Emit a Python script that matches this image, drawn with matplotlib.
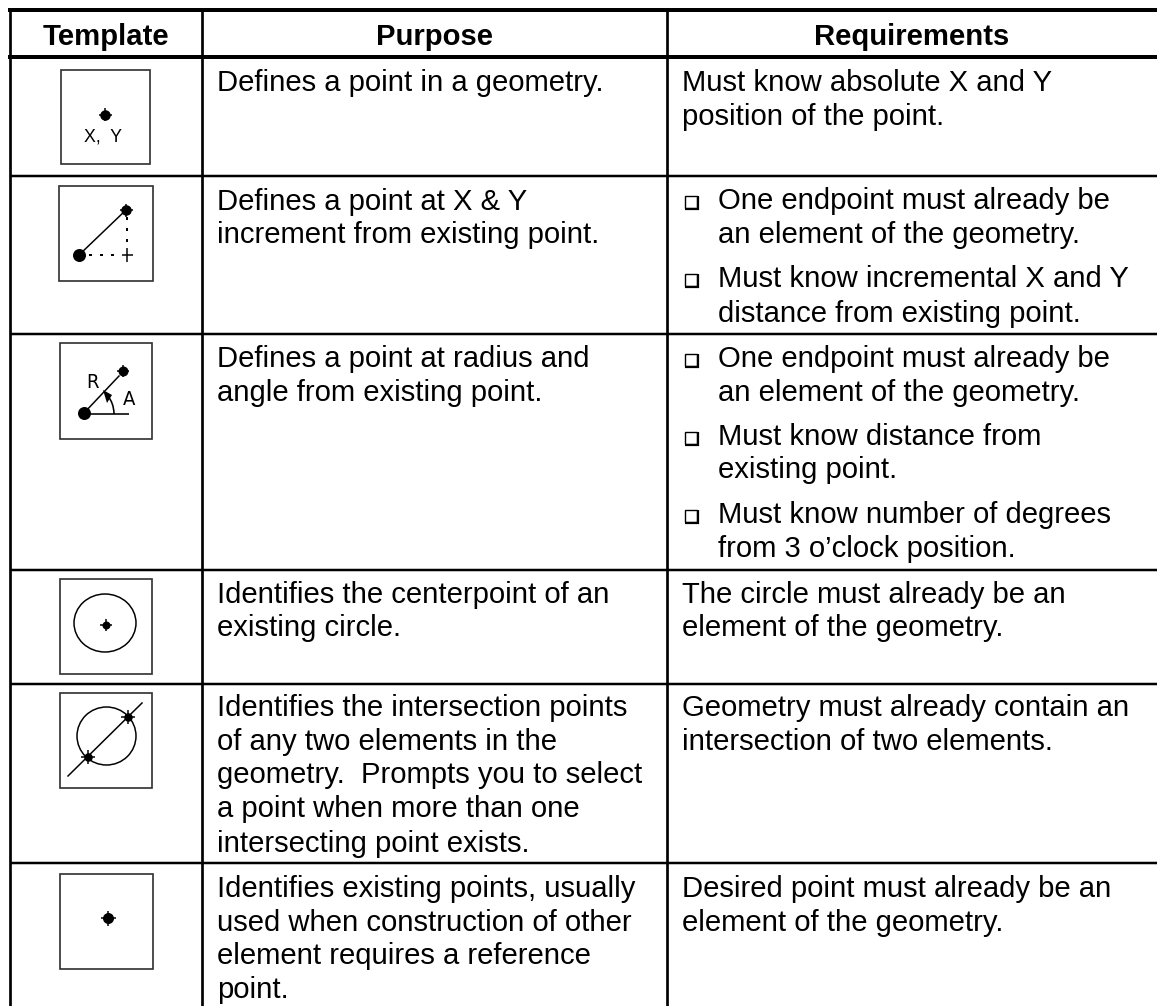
import matplotlib
matplotlib.use("Agg")
import matplotlib.pyplot as plt
from matplotlib.patches import Ellipse, Arc, Rectangle, Polygon

W, H = 1157, 1006
plt.rcParams['font.family'] = ['Liberation Sans', 'DejaVu Sans']

# table grid, pixels
col_lines = [10, 202, 667]
row_lines = [176, 334, 570, 684, 863]
headers = ["Template", "Purpose", "Requirements"]
header_x = [106, 434, 912]

# (baseline y, text) for each column
purpose = [
    (91, "Defines a point in a geometry."),
    (210, "Defines a point at X & Y"),
    (243, "increment from existing point."),
    (367, "Defines a point at radius and"),
    (401, "angle from existing point."),
    (603, "Identifies the centerpoint of an"),
    (636, "existing circle."),
    (716, "Identifies the intersection points"),
    (750, "of any two elements in the"),
    (783, "geometry.  Prompts you to select"),
    (817, "a point when more than one"),
    (852, "intersecting point exists."),
    (897, "Identifies existing points, usually"),
    (931, "used when construction of other"),
    (964, "element requires a reference"),
    (998, "point."),
]
req_plain = [
    (91, "Must know absolute X and Y"),
    (125, "position of the point."),
    (603, "The circle must already be an"),
    (636, "element of the geometry."),
    (716, "Geometry must already contain an"),
    (750, "intersection of two elements."),
    (897, "Desired point must already be an"),
    (931, "element of the geometry."),
]
req_bullets = [
    (209, "One endpoint must already be", True),
    (243, "an element of the geometry.", False),
    (287, "Must know incremental X and Y", True),
    (322, "distance from existing point.", False),
    (367, "One endpoint must already be", True),
    (401, "an element of the geometry.", False),
    (445, "Must know distance from", True),
    (478, "existing point.", False),
    (523, "Must know number of degrees", True),
    (557, "from 3 o\u2019clock position.", False),
]

# icon frames: left, top, right, bottom
boxes = [
    (61, 70, 150, 164),
    (59, 186, 153, 281),
    (60, 343, 152, 439),
    (60, 579, 152, 674),
    (60, 693, 152, 788),
    (59.5, 874, 152.5, 969),
]

fig = plt.figure(figsize=(W / 100, H / 100), dpi=100)
ax = fig.add_axes([0, 0, 1, 1])
ax.set_xlim(0, W)
ax.set_ylim(H, 0)
ax.axis('off')

px = 0.72
FS = 21.1


def hline(y, x0, x1, w, c='k'):
    ax.plot([x0, x1], [y, y], color=c, lw=w * px, solid_capstyle='butt')


def vline(x, y0, y1, w, c='k'):
    ax.plot([x, x], [y0, y1], color=c, lw=w * px, solid_capstyle='butt')


def dot(x, y, size):
    ax.plot([x], [y], 'o', color='k', ms=size * px, mew=0)


def small_point(x, y, size=10, arm=7, w=1.5):
    dot(x, y, size)
    hline(y, x - arm, x + arm, w)
    vline(x, y - arm, y + arm, w)


# grid
hline(10, 8, W, 4)
hline(57, 8, W, 4)
for y in row_lines:
    hline(y, 10, W, 2.5)
for x in col_lines:
    vline(x, 8, H, 2.7)

for x, t in zip(header_x, headers):
    ax.text(x, 45, t, ha='center', va='baseline', fontsize=FS, fontweight='bold')
for y, t in purpose:
    ax.text(217, y, t, va='baseline', fontsize=FS)
for y, t in req_plain:
    ax.text(682.5, y, t, va='baseline', fontsize=FS)
for y, t, b in req_bullets:
    ax.text(718, y, t, va='baseline', fontsize=FS)
    if b:
        ax.add_patch(Rectangle((684.5, y - 13.5), 12.5, 12.5, fc='white', ec='k', lw=1.0))
        hline(y, 684.5, 698.5, 2.2)
        vline(698, y - 13, y + 1, 2.2)

for l, t, r, b in boxes:
    ax.add_patch(Rectangle((l, t), r - l, b - t, fc='white', ec='#333333', lw=1.7 * px))

# row 1
small_point(105, 114.5, 10.5, 6.5)
ax.text(103, 141, "X,  Y", ha='center', va='baseline', fontsize=12.8)

# row 2
ax.plot([79, 126], [255, 210], color='k', lw=1.5 * px)
dot(79, 255, 13)
small_point(126, 210, 10.5, 6.5)
ax.plot([89, 118], [255, 255], color='k', lw=2 * px, ls=(0, (1.5, 4)))
ax.plot([127, 127], [217, 249], color='k', lw=2 * px, ls=(0, (1.5, 4)))
hline(255, 122, 133, 1.5)
vline(127, 248, 262, 1.5)

# row 3
ax.plot([84, 119], [413, 376], color='k', lw=1.5 * px)
hline(414, 84, 129, 1.6)
dot(84, 413, 13)
small_point(123, 371, 10, 6)
ax.add_patch(Arc((84, 414), 60, 60, theta1=320, theta2=360, color='k', lw=1.6 * px))
ax.add_patch(Polygon([(103, 390), (112, 395), (107, 403)], closed=True, fc='k', ec='none'))
ax.text(93, 387.5, "R", ha='center', va='baseline', fontsize=14.5,
        family='DejaVu Sans', stretch='condensed')
ax.text(129, 405, "A", ha='center', va='baseline', fontsize=14.5,
        family='DejaVu Sans', stretch='condensed')

# row 4
ax.add_patch(Ellipse((105, 623), 62, 58, fc='none', ec='k', lw=1.5 * px))
small_point(106, 625, 8, 6)

# row 5
ax.add_patch(Ellipse((106.5, 736), 59, 58, fc='none', ec='k', lw=1.5 * px))
ax.plot([142, 68], [703, 776], color='k', lw=1.5 * px)
small_point(128, 717, 8.5, 7)
small_point(88, 757, 8.5, 7)

# row 6
small_point(108, 918, 11, 7.5)

fig.savefig("out.png", dpi=100)
